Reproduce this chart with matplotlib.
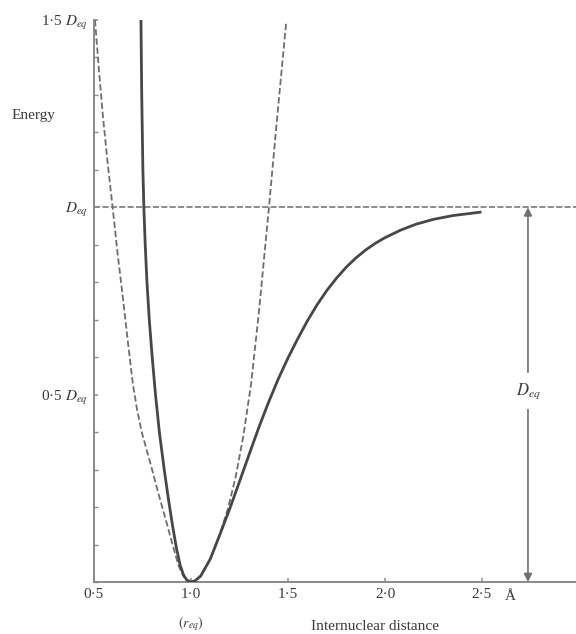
import matplotlib
matplotlib.use('Agg')
import matplotlib.pyplot as plt
from matplotlib.ticker import MultipleLocator

# ── Potential energy curves (energy in units of D_eq, distance in Å) ──────────
# Solid curve: real (Morse-like) potential
morse_r = [0.742, 0.746, 0.752, 0.757, 0.764, 0.773, 0.785, 0.800, 0.817, 0.837,
           0.862, 0.884, 0.905, 0.925, 0.944, 0.962, 0.979, 1.000, 1.020, 1.050,
           1.100, 1.150, 1.200, 1.250, 1.300, 1.350, 1.400, 1.450, 1.500, 1.550,
           1.600, 1.650, 1.700, 1.750, 1.800, 1.850, 1.900, 1.950, 2.000, 2.080,
           2.160, 2.250, 2.350, 2.490]
morse_e = [1.500, 1.300, 1.100, 1.000, 0.900, 0.800, 0.700, 0.600, 0.500, 0.400,
           0.300, 0.220, 0.150, 0.090, 0.045, 0.018, 0.005, 0.000, 0.003, 0.016,
           0.062, 0.128, 0.196, 0.268, 0.341, 0.413, 0.480, 0.542, 0.598, 0.649,
           0.697, 0.740, 0.778, 0.811, 0.840, 0.865, 0.886, 0.904, 0.919, 0.939,
           0.955, 0.968, 0.978, 0.987]

# Dashed curve: harmonic (parabolic) approximation
harm_r = [0.505, 0.525, 0.546, 0.570, 0.596, 0.622, 0.650, 0.676, 0.700, 0.722,
          0.746, 0.789, 0.830, 0.876, 0.910, 0.935, 0.958, 0.980, 1.000, 1.020,
          1.050, 1.100, 1.150, 1.190, 1.230, 1.270, 1.310, 1.350, 1.400, 1.445,
          1.490]
harm_e = [1.500, 1.370, 1.243, 1.120, 1.000, 0.875, 0.754, 0.635, 0.530, 0.460,
          0.400, 0.320, 0.240, 0.155, 0.090, 0.045, 0.018, 0.004, 0.000, 0.003,
          0.016, 0.062, 0.130, 0.195, 0.280, 0.390, 0.530, 0.720, 0.990, 1.245,
          1.490]

dissociation = 1.0          # D_eq level
x_ticks = [0.5, 1.0, 1.5, 2.0, 2.5]
x_labels = ['0·5', '1·0', '1·5', '2·0', '2·5']
y_ticks = [0.5, 1.0, 1.5]
y_labels = [r'0·5 $D_{eq}$', r'$D_{eq}$', r'1·5 $D_{eq}$']
arrow_r = 2.737

# ── Style ──────────────────────────────────────────────────────────────────────
plt.rcParams['font.family'] = ['Liberation Serif', 'DejaVu Serif']
plt.rcParams['mathtext.fontset'] = 'stix'
INK = '#474747'
DASH = '#6e6e6e'
AXIS = '#8a8a8a'
TEXT = '#3a3a3a'
FS = 11

fig = plt.figure(figsize=(5.76, 6.34), dpi=100)
fig.patch.set_facecolor('white')
ax = fig.add_axes([94 / 576, 52 / 634, 482 / 576, 562 / 634])
ax.set_xlim(0.5, 0.5 + 482 / 194)
ax.set_ylim(0, 1.5)

# ── Curves ─────────────────────────────────────────────────────────────────────
ax.plot(harm_r, harm_e, color=DASH, lw=1.3, ls=(0, (3.5, 1.6)), zorder=2)
ax.plot(morse_r, morse_e, color=INK, lw=2.0, solid_joinstyle='round', zorder=3)
ax.axhline(dissociation, color=DASH, lw=1.1, ls=(0, (4, 1.5)), zorder=1)

# ── Double arrow marking D_eq ──────────────────────────────────────────────────
arrow_kw = dict(arrowstyle='-|>', color='#707070', lw=1.2, mutation_scale=12,
                shrinkA=0, shrinkB=0)
ax.annotate('', xy=(arrow_r, dissociation), xytext=(arrow_r, 0.56),
            arrowprops=arrow_kw)
ax.annotate('', xy=(arrow_r, 0.0), xytext=(arrow_r, 0.46),
            arrowprops=arrow_kw)
ax.text(arrow_r, 0.51, r'$D_{eq}$', fontsize=FS + 1, color=TEXT,
        ha='center', va='center')

# ── Axes ───────────────────────────────────────────────────────────────────────
for side in ('top', 'right'):
    ax.spines[side].set_visible(False)
for side in ('left', 'bottom'):
    ax.spines[side].set_color(AXIS)
    ax.spines[side].set_linewidth(1.4)

ax.set_xticks(x_ticks)
ax.set_xticklabels(x_labels)
ax.set_yticks(y_ticks)
ax.set_yticklabels(y_labels)
ax.yaxis.set_minor_locator(MultipleLocator(0.1))
ax.tick_params(axis='both', which='both', direction='in', color=AXIS,
               labelcolor=TEXT, labelsize=FS)
ax.tick_params(axis='x', which='major', length=3, width=1.1, pad=4)
ax.tick_params(axis='y', which='major', length=3, width=1.1, pad=4)
ax.tick_params(axis='y', which='minor', length=3, width=1.0)

ax.text(2.645, -0.04, 'Å', fontsize=FS, color=TEXT, ha='center', va='center')
ax.text(1.0, -0.11, r'$(r_{eq})$', fontsize=FS - 1, color=TEXT,
        ha='center', va='center')
ax.text(1.948, -0.12, 'Internuclear distance', fontsize=FS, color=TEXT,
        ha='center', va='center')
fig.text(12 / 576, 1 - 115 / 634, 'Energy', fontsize=FS, color=TEXT,
         ha='left', va='center')

fig.savefig('out.png', dpi=100, facecolor='white')
plt.close(fig)
